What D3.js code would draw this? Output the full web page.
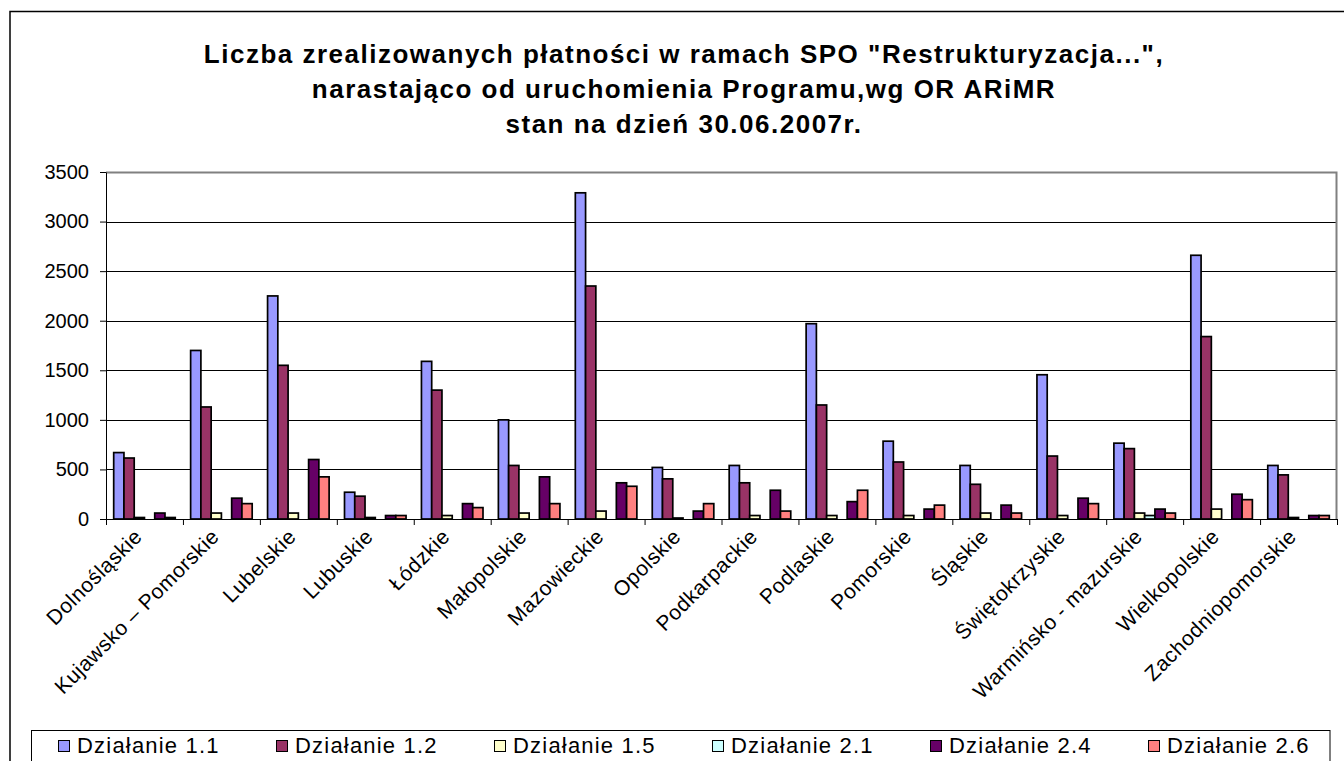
<!DOCTYPE html>
<html>
<head>
<meta charset="utf-8">
<script src="https://cdn.jsdelivr.net/npm/d3@7"></script>
<style>
body { margin: 0; background: #fff; }
text { font-family: "Liberation Sans", Arial, sans-serif; fill: #000; }
</style>
</head>
<body>
<script>
// Categories (regions) and series
var categories = ["Dolnośląskie", "Kujawsko – Pomorskie", "Lubelskie", "Lubuskie", "Łódzkie",
    "Małopolskie", "Mazowieckie", "Opolskie", "Podkarpackie", "Podlaskie", "Pomorskie",
    "Śląskie", "Świętokrzyskie", "Warmińsko - mazurskie", "Wielkopolskie", "Zachodniopomorskie"];
var seriesNames = ["Działanie 1.1", "Działanie 1.2", "Działanie 1.5", "Działanie 2.1", "Działanie 2.4", "Działanie 2.6"];
var seriesColors = ["#9999ff", "#993366", "#ffffcc", "#ccffff", "#660066", "#ff8080"];

var dzialanie11 = [670, 1700, 2250, 270, 1590, 1000, 3290, 520, 540, 1970, 785, 540, 1455, 765, 2660, 540];
var dzialanie12 = [615, 1130, 1550, 230, 1300, 540, 2350, 405, 365, 1150, 575, 350, 635, 710, 1840, 445];
var dzialanie15 = [15, 60, 60, 15, 35, 60, 80, 10, 35, 35, 35, 60, 35, 60, 100, 15];
var dzialanie21 = [0, 0, 0, 0, 0, 0, 0, 0, 0, 0, 0, 0, 0, 35, 0, 0];
var dzialanie24 = [60, 210, 600, 35, 155, 425, 365, 80, 290, 175, 100, 140, 210, 100, 250, 35];
var dzialanie26 = [15, 155, 425, 35, 115, 155, 330, 155, 80, 290, 140, 60, 155, 60, 195, 35];

var yTicks = [0, 500, 1000, 1500, 2000, 2500, 3000, 3500];
var titleLines = ['Liczba zrealizowanych płatności w ramach SPO "Restrukturyzacja...",',
    "narastająco od uruchomienia Programu,wg OR ARiMR",
    "stan na dzień 30.06.2007r."];

var seriesValues = [dzialanie11, dzialanie12, dzialanie15, dzialanie21, dzialanie24, dzialanie26];

// Dimensions
var W = 1344, H = 761;
var margin = {top: 172, right: 7, bottom: 242, left: 106},
    width = W - margin.left - margin.right,
    height = H - margin.top - margin.bottom;

var svg0 = d3.select("body").append("svg")
    .attr("width", W)
    .attr("height", H);

// outer chart border
svg0.append("rect")
    .attr("x", 10).attr("y", 11.5)
    .attr("width", W + 20).attr("height", H + 20)
    .attr("fill", "none").attr("stroke", "#000").attr("stroke-width", 1.5);

// title
svg0.selectAll(".title")
    .data(titleLines)
    .enter().append("text")
    .attr("class", "title")
    .attr("x", 684)
    .attr("y", function(d, i) { return 63 + i * 35; })
    .style("text-anchor", "middle")
    .style("font-size", "26px")
    .style("font-weight", "bold")
    .style("letter-spacing", "1.5px")
    .text(function(d) { return d; });

var svg = svg0.append("g")
    .attr("transform", "translate(" + margin.left + "," + margin.top + ")");

// Scales
var x0 = d3.scaleBand().domain(categories).range([0, width]).paddingInner(0.2).paddingOuter(0.1);
var x1 = d3.scaleBand().domain(seriesNames).range([0, x0.bandwidth()]);
var xb = d3.scaleLinear().domain([0, categories.length]).range([0, width]);
var y = d3.scaleLinear().domain([0, 3500]).range([height, 0]);

// gridlines
svg.selectAll(".grid")
    .data(yTicks.filter(function(d) { return d > 0 && d < 3500; }))
    .enter().append("line")
    .attr("x1", 0).attr("x2", width)
    .attr("y1", function(d) { return Math.round(y(d)) + 0.5; })
    .attr("y2", function(d) { return Math.round(y(d)) + 0.5; })
    .attr("stroke", "#000").attr("stroke-width", 1);

// plot area border (top and right)
svg.append("path")
    .attr("d", "M0,0.5H" + (width - 0.5) + "V" + height)
    .attr("fill", "none").attr("stroke", "#808080").attr("stroke-width", 2);

// bars
var groups = svg.selectAll(".group")
    .data(categories)
    .enter().append("g")
    .attr("transform", function(d) { return "translate(" + x0(d) + ",0)"; });

groups.selectAll("rect")
    .data(function(d, i) {
        return seriesNames.map(function(s, j) { return {s: s, j: j, v: seriesValues[j][i]}; })
            .filter(function(e) { return e.v > 0; });
    })
    .enter().append("rect")
    .attr("x", function(d) { return x1(d.s); })
    .attr("y", function(d) { return y(d.v); })
    .attr("width", x1.bandwidth())
    .attr("height", function(d) { return height - y(d.v); })
    .attr("fill", function(d) { return seriesColors[d.j]; })
    .attr("stroke", "#000").attr("stroke-width", 1.7);

// y axis
var yAxis = d3.axisLeft(y).tickValues(yTicks).tickSize(6).tickSizeOuter(0).tickPadding(11).tickFormat(d3.format("d"));
var gy = svg.append("g").call(yAxis);
gy.selectAll("text").style("font-size", "20px").attr("font-family", null);
gy.selectAll("line, path").attr("stroke", "#000");

// x axis (ticks between categories)
var xAxis = d3.axisBottom(xb).tickValues(d3.range(categories.length + 1)).tickSize(6).tickSizeOuter(0).tickFormat("");
var gx = svg.append("g").attr("transform", "translate(0," + height + ")").call(xAxis);
gx.selectAll("line, path").attr("stroke", "#000");

// x labels
svg.selectAll(".xlabel")
    .data(categories)
    .enter().append("text")
    .attr("class", "xlabel")
    .attr("transform", function(d) {
        return "translate(" + (x0(d) + x0.bandwidth() / 2 - 1) + "," + (height + 19) + ") rotate(-45)";
    })
    .style("text-anchor", "end")
    .style("font-size", "21px")
    .style("letter-spacing", "0.5px")
    .text(function(d) { return d; });

// legend
var legend = svg0.append("g");
legend.append("rect")
    .attr("x", 31.5).attr("y", 730.5)
    .attr("width", 1330 - 31.5).attr("height", 60)
    .attr("fill", "#fff").attr("stroke", "#000").attr("stroke-width", 1);

var li = legend.selectAll(".li")
    .data(seriesNames)
    .enter().append("g")
    .attr("transform", function(d, i) { return "translate(" + (58 + i * 218) + ",0)"; });
li.append("rect")
    .attr("x", 0.5).attr("y", 740.5)
    .attr("width", 11).attr("height", 11)
    .attr("fill", function(d, i) { return seriesColors[i]; })
    .attr("stroke", "#000").attr("stroke-width", 1);
li.append("text")
    .attr("x", 19).attr("y", 753)
    .style("font-size", "22px")
    .style("letter-spacing", "1.2px")
    .text(function(d) { return d; });
</script>
</body>
</html>
